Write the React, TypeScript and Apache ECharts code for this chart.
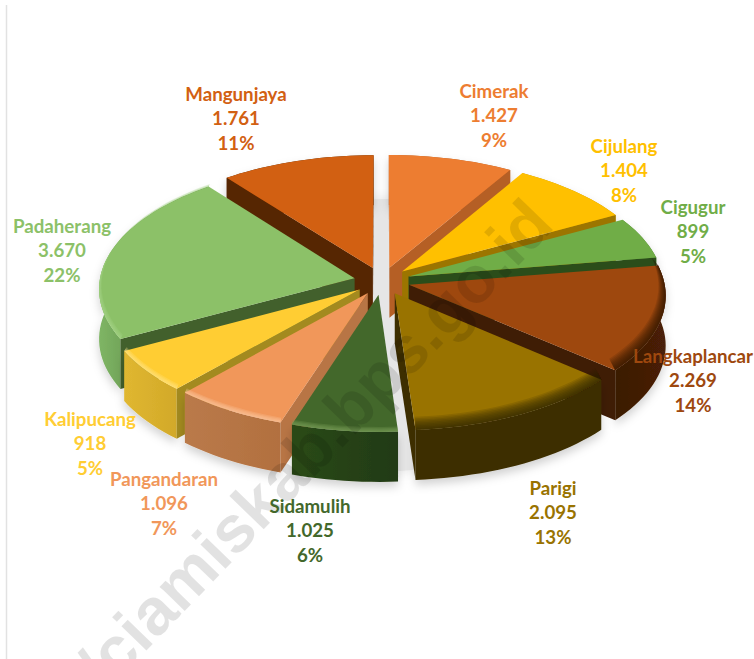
import React, { useEffect, useRef } from "react";
import * as echarts from "echarts";

const categories = ["Cimerak", "Cijulang", "Cigugur", "Langkaplancar", "Parigi", "Sidamulih", "Pangandaran", "Kalipucang", "Padaherang", "Mangunjaya"];
const values = [1427, 1404, 899, 2269, 2095, 1025, 1096, 918, 3670, 1761];
const valueLabels = ["1.427", "1.404", "899", "2.269", "2.095", "1.025", "1.096", "918", "3.670", "1.761"];
const percentLabels = ["9%", "8%", "5%", "14%", "13%", "6%", "7%", "5%", "22%", "11%"];

const topColors = ["#ED7D31", "#FFC000", "#70AD47", "#9E480E", "#997300", "#43682B", "#F1975A", "#FFCD33", "#8CC168", "#D26012"];
const wallColors = ["#B55F25", "#9C7500", "#2B4D1A", "#3F1D05", "#3D2E00", "#264016", "#B87545", "#A38A1F", "#42602C", "#562602"];
const outerWallFrom = ["#B55F25", "#C29100", "#4F8030", "#4A2007", "#3D2E00", "#2A4A18", "#BA7A4A", "#E0B730", "#7FB565", "#562602"];
const outerWallTo = ["#B55F25", "#C29100", "#4F8030", "#3A1A04", "#3D2E00", "#223A12", "#B2703F", "#D2A92A", "#3F6A2A", "#562602"];
const rimColors = ["", "", "", "#2E1403", "#2E2300", "#7CA35C", "#FBC7A2", "#FFE88C", "#A6D68A", ""];
const rimIsDark = [false, false, false, true, true, false, false, false, false, false];
// label centres, one per category
const labelX = [494, 624, 693, 693, 553, 310, 164, 90, 62, 236];
const labelY = [115, 170, 231, 380, 512, 530, 503, 443, 250, 118];

const CX = 382, CY = 281, R = 255, K = 0.49, PERSP = 0.08, DEPTH = 50, EXPLODE = 0.11;
const total = values.reduce((a, b) => a + b, 0);
const rad = (d: number) => (d * Math.PI) / 180;

const startAngles: number[] = [];
values.reduce((acc, v, i) => {
  startAngles[i] = acc;
  return acc + (v / total) * 360;
}, 0);
const endAngle = (i: number) => startAngles[i] + (values[i] / total) * 360;
const midAngle = (i: number) => (startAngles[i] + endAngle(i)) / 2;

// painter's order: the rear slices first
const drawOrder = values.map((_, i) => i).sort((a, b) => -Math.cos(rad(midAngle(a))) - -Math.cos(rad(midAngle(b))));

type P = [number, number];
function project(px: number, py: number, shift: number): P {
  const s = 1 + PERSP * py;
  return [CX + R * px * s, CY + R * K * py * s + shift];
}
function sliceGeom(i: number) {
  const m = rad(midAngle(i));
  const ex = EXPLODE * Math.sin(m);
  const ey = -EXPLODE * Math.cos(m);
  const rim = (deg: number, shift: number, r = 1) =>
    project(ex + r * Math.sin(rad(deg)), ey - r * Math.cos(rad(deg)), shift);
  const apex = (shift: number) => project(ex, ey, shift);
  const arc = (shift: number, r = 1) => {
    const from = startAngles[i];
    const to = endAngle(i);
    const n = Math.max(2, Math.ceil((to - from) / 2));
    const pts: P[] = [];
    for (let k = 0; k <= n; k++) pts.push(rim(from + ((to - from) * k) / n, shift, r));
    return pts;
  };
  return { rim, apex, arc };
}
const poly = (points: P[], style: any) => ({ type: "polygon", shape: { points }, style, silent: true });

function renderSlice(_params: any, api: any) {
  const i = api.value(0) as number;
  const g = sliceGeom(i);
  const children: any[] = [];
  const topArc = g.arc(0);
  const bottomArc = g.arc(DEPTH);
  const apexTop = g.apex(0);
  const apexBottom = g.apex(DEPTH);
  const interior = g.rim(midAngle(i), 0);

  const radialVisible = (rimPt: P) => {
    const ex = rimPt[0] - apexTop[0];
    const ey = rimPt[1] - apexTop[1];
    const crossInterior = ex * (interior[1] - apexTop[1]) - ey * (interior[0] - apexTop[0]);
    return ex * crossInterior < 0;
  };

  children.push(
    poly([...topArc, ...bottomArc.slice().reverse()], {
      fill: {
        type: "linear",
        x: 0,
        y: 0,
        x2: 1,
        y2: 0,
        colorStops: [
          { offset: 0, color: midAngle(i) > 180 ? outerWallFrom[i] : outerWallTo[i] },
          { offset: 1, color: midAngle(i) > 180 ? outerWallTo[i] : outerWallFrom[i] },
        ],
      },
      shadowBlur: 10,
      shadowOffsetY: 5,
      shadowColor: "rgba(0,0,0,0.18)",
    })
  );
  for (const deg of [startAngles[i], endAngle(i)]) {
    const rt = g.rim(deg, 0);
    const rb = g.rim(deg, DEPTH);
    if (radialVisible(rt)) {
      children.push(poly([apexTop, rt, rb, apexBottom], { fill: wallColors[i] }));
    }
  }
  children.push(poly([apexTop, ...topArc], { fill: topColors[i] }));
  // bevel: soft bands that stay inside the top face, along its rim
  if (rimColors[i]) {
    const dark = rimIsDark[i];
    const steps = dark ? 9 : 4;
    const depthPx = dark ? 9 : 3.5;
    const depthR = dark ? 0.028 : 0.01;
    const opacity = dark ? 0.14 : 0.24;
    for (let k = steps; k >= 1; k--) {
      const d = k / steps;
      const inner = g.arc(-depthPx * d, 1 - depthR * d);
      children.push(poly([...topArc, ...inner.slice().reverse()], { fill: rimColors[i], opacity }));
    }
  }
  return { type: "group", children };
}

function renderLabel(_params: any, api: any) {
  const i = api.value(0) as number;
  return {
    type: "text",
    x: labelX[i],
    y: labelY[i],
    silent: true,
    style: {
      text: `${categories[i]}\n${valueLabels[i]}\n${percentLabels[i]}`,
      font: "700 18.7px Lato",
      fill: topColors[i],
      align: "center",
      verticalAlign: "middle",
      lineHeight: 24.5,
    },
  };
}

export default function App() {
  const ref = useRef<HTMLDivElement>(null);
  useEffect(() => {
    const chart = echarts.init(ref.current!, null, { renderer: "svg" });
    chart.setOption({
      animation: false,
      backgroundColor: "#ffffff",
      graphic: {
        elements: [
          {
            type: "line",
            z: 1,
            silent: true,
            shape: { x1: 6.5, y1: 5, x2: 6.5, y2: 659 },
            style: { stroke: "#E2E2E2", lineWidth: 1.5 },
          },
          {
            type: "ellipse",
            z: 1,
            silent: true,
            shape: { cx: 388, cy: 335, rx: 190, ry: 136 },
            style: { fill: "#E6E6E6", shadowBlur: 12, shadowColor: "#E6E6E6" },
          },
          {
            type: "text",
            z: 50,
            silent: true,
            x: 314,
            y: 444,
            rotation: rad(46),
            style: {
              text: "/ciamiskab.bps.go.id",
              font: "700 66px 'Liberation Sans'",
              fill: "rgba(0,0,0,0.115)",
              align: "center",
              verticalAlign: "middle",
            },
          },
        ],
      },
      series: [
        {
          type: "custom",
          coordinateSystem: "none",
          z: 2,
          silent: true,
          renderItem: renderSlice,
          data: drawOrder.map((i) => [i, values[i]]),
        },
        {
          type: "custom",
          coordinateSystem: "none",
          z: 60,
          silent: true,
          renderItem: renderLabel,
          data: categories.map((_, i) => [i, values[i]]),
        },
      ],
    });
    return () => chart.dispose();
  }, []);
  return <div ref={ref} style={{ position: "fixed", left: 0, top: 0, width: 754, height: 659 }} />;
}
